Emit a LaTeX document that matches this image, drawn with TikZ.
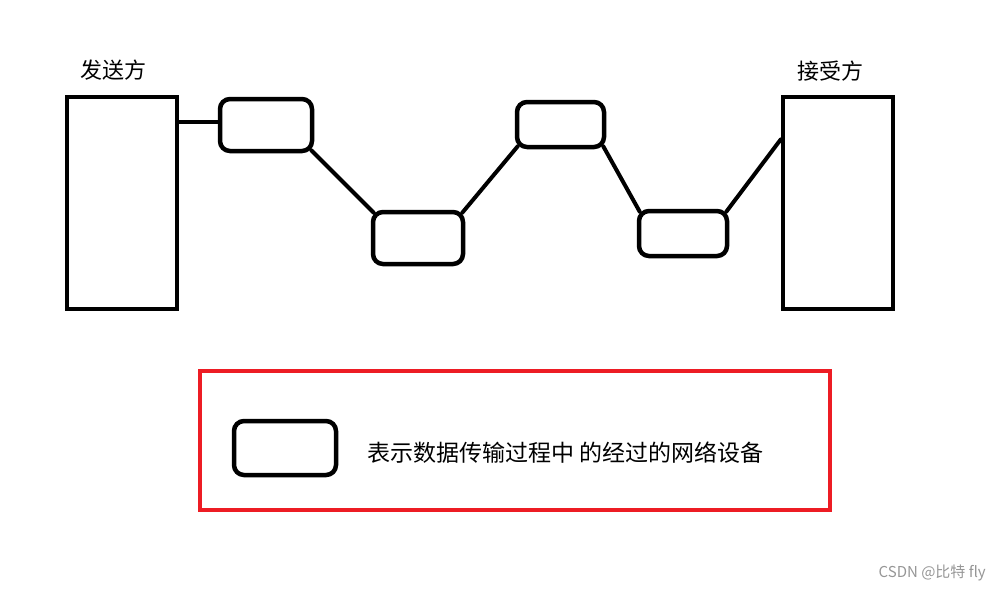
\documentclass[tikz,border=0pt]{standalone}
\usepackage{fontspec}
\setmainfont{Noto Sans CJK SC}
\usepackage{tikz}
\usetikzlibrary{positioning}
\definecolor{frame_red}{RGB}{237,28,36}
\definecolor{mark_gray}{RGB}{150,150,150}

\begin{document}
\begin{tikzpicture}[x=1pt,y=-1pt,
      host_node/.style={
         rectangle,
         draw=black,
         line width=4.5pt,
         minimum width=110pt,
         minimum height=212pt,
         inner sep=0pt},
      dev_node/.style={
         rectangle,
         rounded corners=10pt,
         draw=black,
         line width=4.5pt,
         inner sep=0pt},
      label_node/.style={
         font=\fontsize{22}{26}\selectfont,
         inner sep=0pt},
      link_line/.style={
         line width=4pt,
         line cap=round}
]
      \useasboundingbox (0,0) rectangle (1001,590);

      %sender and receiver
      \node[host_node] (tx) at (122,203) {};
      \node[host_node] (rx) at (838,203) {};
      \node[label_node] (txlabel) at (113,70) {发送方};
      \node[label_node] (rxlabel) at (830,71) {接受方};

      %devices on the way
      \node[dev_node,minimum width=92pt,minimum height=52pt] (d1) at (266,125) {};
      \node[dev_node,minimum width=90pt,minimum height=52pt] (d2) at (418,238) {};
      \node[dev_node,minimum width=87pt,minimum height=45pt] (d3) at (560.5,124.5) {};
      \node[dev_node,minimum width=88pt,minimum height=45pt] (d4) at (683,233.5) {};

      \draw[link_line] (tx.east |- 0,122) -- (d1.west |- 0,122);
      \foreach \i/\a/\j/\b in {% start anchor/shift/end anchor/shift
        d1.south east/{-3,-3}/d2.north west/{3,3},
        d2.north east/{-3,3}/d3.south west/{3,-3},
        d3.south east/{-3,-3}/d4.north west/{3,3},
        d4.north east/{-3,3}/rx.132/{0,0}}
      \draw[link_line] ([shift={(\a)}]\i) -- ([shift={(\b)}]\j);

      %legend
      \node[rectangle,draw=frame_red,line width=4.5pt,minimum width=630pt,minimum height=139pt] (legend) at (515,440.5) {};
      \node[dev_node,minimum width=102pt,minimum height=54pt] (ldev) at (285,448) {};
      \node[label_node,font=\fontsize{23}{27}\selectfont,anchor=west] (ltext) at (367,453) {表示数据传输过程中 的经过的网络设备};

      %watermark
      \node[font=\fontsize{15}{17}\selectfont,text=mark_gray,anchor=east,inner sep=0pt] (mark) at (986,573) {CSDN @比特 fly};
\end{tikzpicture}
\end{document}
